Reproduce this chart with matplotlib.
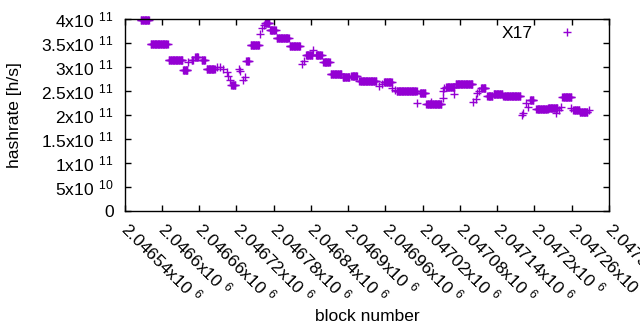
import numpy as np
import matplotlib
matplotlib.use("Agg")
import matplotlib.pyplot as plt

plt.rcParams['font.family'] = ['Liberation Sans', 'DejaVu Sans']
plt.rcParams['mathtext.fontset'] = 'custom'
plt.rcParams['mathtext.rm'] = 'Liberation Sans'

# runs of blocks that share one hashrate estimate (block from, block to, hashrate in 1e11 h/s)
seg_start = [2046566, 2046582, 2046611, 2046634, 2046648, 2046654, 2046664, 2046672,
             2046712, 2046736, 2046743, 2046766, 2046774, 2046785, 2046806, 2046832,
             2046848, 2046860, 2046872, 2046891, 2046905, 2046918, 2046958, 2046978,
             2047016, 2047026, 2047058, 2047073, 2047114, 2047124, 2047134, 2047150,
             2047193, 2047203, 2047222, 2047245, 2047264, 2047273]
seg_end = [2046579, 2046609, 2046633, 2046641, 2046650, 2046658, 2046669, 2046685,
           2046718, 2046740, 2046756, 2046773, 2046783, 2046804, 2046822, 2046842,
           2046857, 2046870, 2046889, 2046902, 2046914, 2046945, 2046970, 2047010,
           2047024, 2047050, 2047071, 2047100, 2047121, 2047132, 2047148, 2047177,
           2047198, 2047221, 2047237, 2047259, 2047272, 2047285]
seg_hashrate = [3.98, 3.49, 3.16, 2.94, 3.15, 3.21, 3.15, 2.96,
                2.63, 3.12, 3.46, 3.92, 3.77, 3.60, 3.44, 3.25,
                3.25, 3.10, 2.85, 2.79, 2.81, 2.71, 2.69, 2.50,
                2.46, 2.23, 2.58, 2.65, 2.56, 2.40, 2.44, 2.40,
                2.31, 2.12, 2.14, 2.38, 2.10, 2.06]

# single blocks off the runs
pt_block = [2046642, 2046688, 2046694, 2046698, 2046704, 2046706, 2046709, 2046724,
            2046726, 2046730, 2046733, 2046758, 2046761, 2046765, 2046825, 2046828,
            2046843, 2046950, 2046954, 2046971, 2046976, 2047011, 2047034, 2047052,
            2047053, 2047055, 2047071, 2047101, 2047105, 2047108, 2047111, 2047180,
            2047181, 2047187, 2047189, 2047235, 2047240, 2047243, 2047259, 2047262,
            2047288]
pt_hashrate = [3.10, 3.00, 3.00, 2.96, 2.90, 2.81, 2.73, 2.96,
               2.92, 2.73, 2.79, 3.69, 3.81, 3.88, 3.06, 3.13,
               3.35, 2.60, 2.65, 2.56, 2.52, 2.25, 2.27, 2.35,
               2.50, 2.56, 2.44, 2.27, 2.33, 2.46, 2.50, 2.00,
               2.04, 2.25, 2.17, 2.04, 2.10, 2.17, 2.15, 2.10,
               2.10]

x_ticks = [2046540 + 60 * i for i in range(14)]
x_ticklabels = [r'$\mathregular{%sx10\ {}^{6}}$' % ('%.5f' % (t / 1e6)).rstrip('0') for t in x_ticks]
y_ticks = [0, 0.5e11, 1e11, 1.5e11, 2e11, 2.5e11, 3e11, 3.5e11, 4e11]
y_ticklabels = ['0', r'$\mathregular{5x10\ {}^{10}}$', r'$\mathregular{1x10\ {}^{11}}$',
                r'$\mathregular{1.5x10\ {}^{11}}$', r'$\mathregular{2x10\ {}^{11}}$',
                r'$\mathregular{2.5x10\ {}^{11}}$', r'$\mathregular{3x10\ {}^{11}}$',
                r'$\mathregular{3.5x10\ {}^{11}}$', r'$\mathregular{4x10\ {}^{11}}$']

blocks = np.concatenate([np.arange(a, b + 1) for a, b in zip(seg_start, seg_end)] + [np.array(pt_block)])
rates = np.concatenate([np.full(b - a + 1, h) for a, b, h in zip(seg_start, seg_end, seg_hashrate)]
                       + [np.array(pt_hashrate)]) * 1e11

fs = 12.5

fig = plt.figure(figsize=(6.4, 3.3), dpi=100)
ax = fig.add_axes([124.7 / 640, 1 - 211 / 330, (609 - 124.7) / 640, (211 - 19.3) / 330])

ax.plot(blocks, rates, '+', color='#9400d3', markersize=5.4, markeredgewidth=1.0,
        label='X17', clip_on=False)

ax.set_xlim(2046540, 2047320)
ax.set_ylim(0, 4e11)
ax.set_xticks(x_ticks)
ax.set_xticklabels(x_ticklabels, rotation=-45, ha='left', va='center', rotation_mode='anchor', fontsize=fs)
ax.set_yticks(y_ticks)
ax.set_yticklabels(y_ticklabels, fontsize=fs)
ax.tick_params(direction='in', top=True, right=True, length=4, width=1, colors='black')
ax.tick_params(axis='x', pad=10)
ax.tick_params(axis='y', pad=8)
for s in ax.spines.values():
    s.set_linewidth(1)

ax.set_xlabel('block number', fontsize=fs, labelpad=0)
ax.xaxis.set_label_coords(0.5, -0.51)
ax.set_ylabel('hashrate [h/s]', fontsize=fs)
ax.yaxis.set_label_coords(-0.212, 0.5)

ax.legend(loc='upper right', bbox_to_anchor=(0.972, 1.045), frameon=False, markerfirst=False,
          numpoints=1, fontsize=fs, handlelength=1.5, handletextpad=1.2)

fig.savefig('out.png', dpi=100)
